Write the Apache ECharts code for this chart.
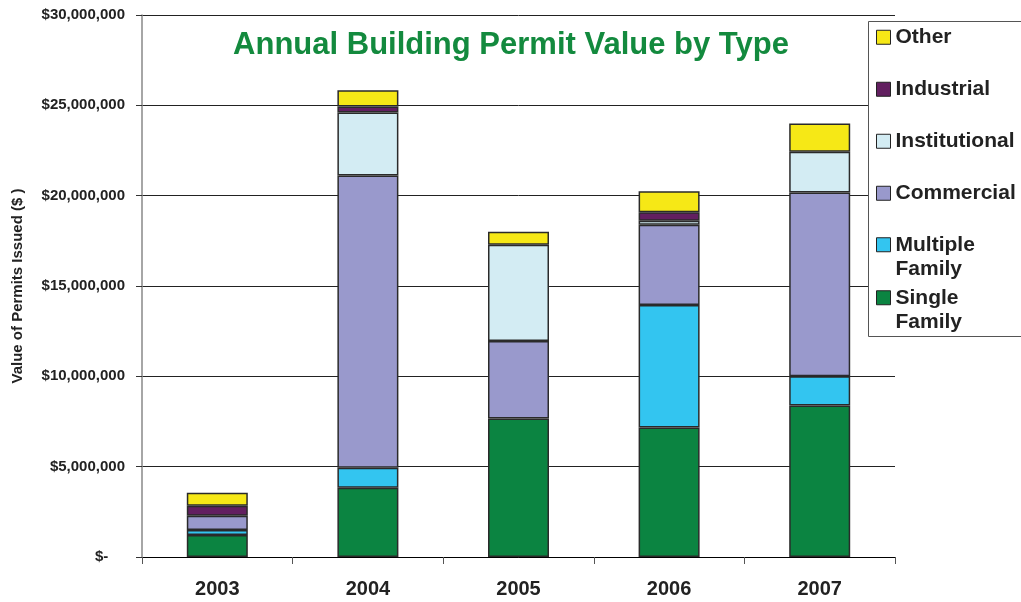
<!DOCTYPE html>
<html>
<head>
<meta charset="utf-8">
<script src="https://cdn.jsdelivr.net/npm/echarts@6/dist/echarts.min.js"></script>
<style>html,body{margin:0;padding:0;background:#fff}#c{width:1021px;height:602px}</style>
</head>
<body>
<div id="c"></div>
<script>
const years = ['2003', '2004', '2005', '2006', '2007'];
const singleFamily   = [1220000, 3830000, 7670000, 7170000, 8390000];
const multipleFamily = [280000, 1110000, null, 6780000, 1610000];
const commercial     = [780000, 16170000, 4280000, 4440000, 10170000];
const institutional  = [null, 3500000, 5330000, 220000, 2260000];
const industrial     = [560000, 330000, null, 470000, null];
const other          = [720000, 890000, 720000, 1170000, 1560000];
const yTicks = { min: 0, max: 30000000, interval: 5000000 };

const FONT = '"Liberation Sans", Arial, sans-serif';
const seriesDefs = [
  { name: 'Single Family', data: singleFamily, color: '#0b8441' },
  { name: 'Multiple Family', data: multipleFamily, color: '#33c5f0' },
  { name: 'Commercial', data: commercial, color: '#9999cc' },
  { name: 'Institutional', data: institutional, color: '#d3ecf3' },
  { name: 'Industrial', data: industrial, color: '#621f60' },
  { name: 'Other', data: other, color: '#f6e816' }
];
// legend order, top to bottom, and first-line vertical centres
const legendOrder = ['Other', 'Industrial', 'Institutional', 'Commercial', 'Multiple Family', 'Single Family'];
const legendY = [37, 89, 141, 193, 245, 298];
const twoLine = { 'Multiple Family': true, 'Single Family': true };

const legends = legendOrder.map((name, i) => {
  const multi = !!twoLine[name];
  return {
    data: [name],
    left: 876,
    top: multi ? legendY[i] - 37 : legendY[i] - 12,
    padding: 0,
    z: 20,
    icon: 'rect',
    itemWidth: 14,
    itemHeight: 14,
    itemGap: 0,
    selectedMode: false,
    itemStyle: { borderColor: '#222', borderWidth: 1 },
    formatter: n => multi ? '\n' + n.replace(' ', '\n') : n,
    textStyle: {
      fontFamily: FONT, fontWeight: 'bold', fontSize: 21, color: '#222',
      lineHeight: 24.5
    }
  };
});

const chart = echarts.init(document.getElementById('c'), null, { renderer: 'canvas' });
chart.setOption({
  animation: false,
  backgroundColor: '#fff',
  title: {
    text: 'Annual Building Permit Value by Type',
    left: 511, textAlign: 'center', top: 30, padding: 0,
    textStyle: { fontFamily: FONT, fontWeight: 'bold', fontSize: 31, color: '#138a3e' }
  },
  legend: legends,
  graphic: [{
    type: 'rect', z: 10,
    shape: { x: 868.5, y: 21.5, width: 160, height: 315 },
    style: { fill: '#fff', stroke: '#555', lineWidth: 1 }
  }],
  grid: { left: 142, right: 126, top: 15, bottom: 45 },
  xAxis: {
    type: 'category', data: years,
    axisLine: { lineStyle: { color: '#000', width: 1 } },
    axisTick: { show: true, length: 7, alignWithLabel: false, lineStyle: { color: '#555' } },
    axisLabel: { margin: 22, fontFamily: FONT, fontWeight: 'bold', fontSize: 20, color: '#222' }
  },
  yAxis: {
    type: 'value', min: yTicks.min, max: yTicks.max, interval: yTicks.interval,
    name: 'Value of Permits Issued ($ )', nameLocation: 'middle', nameGap: 117, nameRotate: 90,
    nameTextStyle: { fontFamily: FONT, fontWeight: 'bold', fontSize: 15, color: '#222' },
    axisLine: { show: true, lineStyle: { color: '#888', width: 1.5 } },
    axisTick: { show: true, length: 6, lineStyle: { color: '#333' } },
    splitLine: { lineStyle: { color: '#222', width: 1 } },
    axisLabel: {
      margin: 17, fontFamily: FONT, fontWeight: 'bold', fontSize: 15, color: '#222',
      formatter: v => v === 0 ? '$-    ' : '$' + v.toLocaleString('en-US')
    }
  },
  series: seriesDefs.map(s => ({
    name: s.name, type: 'bar', stack: 'total', data: s.data, barWidth: 61,
    itemStyle: { color: s.color, borderColor: '#2a2a2a', borderWidth: 1.5 },
    emphasis: { disabled: true }
  }))
});
</script>
</body>
</html>
